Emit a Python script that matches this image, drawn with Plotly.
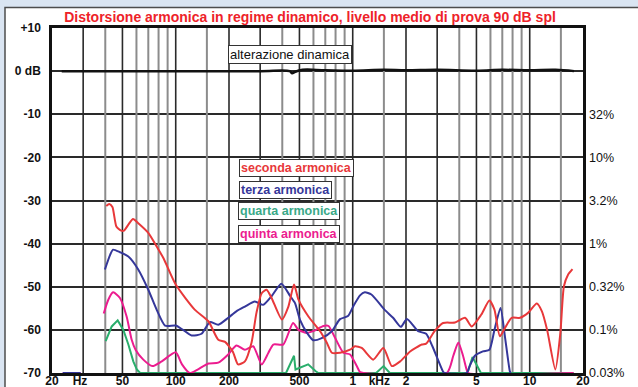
import numpy as np
import plotly.graph_objects as go

# ---- data -------------------------------------------------------------
title_text = "Distorsione armonica in regime dinamico, livello medio di prova 90 dB spl"

# dynamic alteration (dB)
alt_f = [22.7, 100, 300, 440, 455, 470, 520, 700, 1000, 1500, 2000, 3000, 5000, 7000, 10000, 14000, 17800]
alt_db = [0.0, 0.0, 0.0, 0.0, -0.5, -0.2, 0.3, 0.2, 0.1, 0.3, 0.2, 0.3, 0.1, 0.3, 0.2, 0.3, 0.0]

# 2nd harmonic
h2_f = [40.5, 42.1, 43.9, 46.2, 49.2, 51.0, 54.0, 57.4, 61.2, 70.0, 77.9, 85.3, 100, 128, 153, 174,
        190, 210, 225, 246, 268, 286, 306, 326, 348, 398, 433, 466, 494, 562, 654, 714, 762, 848,
        966, 1030, 1124, 1306, 1490, 1664, 1854, 2110, 2458, 2600, 2900, 3240, 3780, 4310, 4700,
        5320, 5920, 6320, 6780, 7240, 7900, 8820, 9820, 10960, 11720, 12540, 13960, 14900, 15600,
        16460, 17440]
h2_db = [-31.3, -30.8, -31.5, -36.0, -37.0, -37.0, -35.6, -34.3, -35.2, -37.5, -40.6, -43.4, -49.5,
         -55.3, -58.0, -62.3, -62.8, -65.0, -68.0, -67.3, -63.0, -56.0, -51.5, -50.7, -52.6, -57.6,
         -54.6, -49.5, -53.0, -56.9, -60.3, -63.0, -65.3, -65.3, -64.6, -63.8, -64.2, -66.9, -64.2,
         -68.4, -67.3, -65.0, -63.4, -63.2, -60.3, -58.4, -58.3, -57.2, -59.2, -56.5, -53.2, -55.3,
         -61.5, -59.6, -57.2, -57.2, -56.0, -53.9, -55.7, -60.0, -69.2, -60.7, -49.9, -47.2, -45.9]

# 3rd harmonic
h3_f = [23, 29, None, 39.8, 42.6, 44.3, 48.4, 54, 61.4, 70, 78, 87, 100, 110, 123, 140, 156, 174, 198,
        220, 246, 280, 312, 348, 395, 444, 472, 503, 552, 598, 668, 762, 848, 940, 1008, 1100, 1170,
        1275, 1512, 1690, 1870, 2024, 2340, 2600, 2820, 3230, 3300, 4400, 4580, 4900, 5440, 5920,
        6320, 6840, 7240, 7720, 7800]
h3_db = [-70, -70, None, -46.0, -42.6, -41.4, -42.0, -43.0, -46.0, -50.7, -55.3, -59.0, -59.0, -60.0,
         -61.3, -60.9, -58.2, -58.8, -57.2, -55.7, -54.6, -53.4, -54.2, -52.2, -49.3, -52.2, -53.8,
         -57.6, -60.7, -62.4, -61.9, -60.3, -57.5, -56.8, -54.5, -52.0, -51.3, -51.8, -55.3, -57.2,
         -59.3, -57.5, -60.3, -60.9, -63.8, -69.6, -70, -70, -68.4, -66.0, -65.0, -64.6, -60.0,
         -54.9, -61.5, -69.6, -70]

# 4th harmonic
h4_f = [40.2, 43.5, 47, 50.6, 54, 57.6, 60.3, 63, 420, 466, 475, 538, 560, 618, 640, 1356, 1494, 1620,
        4450, 4750, 5300, 17700]
h4_db = [-62.6, -59.2, -57.8, -60.0, -63.4, -67.3, -69.2, -70, -70, -66.0, -69.2, -68.4, -68.0, -69.6,
         -70, -70, -68.4, -70, -70, -66.3, -70, -70]

# 5th harmonic
h5_f = [23, 29, None, 39.2, 41.6, 44.3, 48.4, 52.8, 56.4, 59.3, 65.6, 73.8, 83.4, 100, 108.5, 120, 133,
        153, 174, 198, 220, 246, 274, 306, 334, 356, 405, 460, 494, 552, 598, 684, 730, 796, 886,
        966, 1054, 1100, 1150, 3400, 3700, 3950, 4200, 4400, 4500, 17700]
h5_db = [-70, -70, None, -56.2, -53.0, -51.3, -52.6, -56.9, -62.3, -64.6, -66.9, -68.4, -67.3, -65.2,
         -68.0, -70, -69.2, -67.8, -67.6, -65.7, -63.6, -64.6, -63.8, -68.0, -65.3, -63.4, -63.4,
         -58.4, -60.0, -60.7, -60.3, -59.1, -59.1, -61.9, -65.3, -65.7, -68.4, -69.8, -70, -70, -66.0,
         -62.9, -66.0, -69.2, -70, -70]

# frequency grid
grid_major = [30, 50, 100, 200, 300, 500, 1000, 2000, 3000, 5000, 10000]
grid_minor = [40, 60, 70, 80, 90, 150, 400, 600, 700, 800, 900, 1500, 4000, 6000, 7000, 8000, 9000, 15000]

x_tickvals = [20, 28.8, 50, 100, 200, 500, 1000, 1414, 2000, 5000, 10000, 20000]
x_ticktext = ["20", "Hz", "50", "100", "200", "500", "1", "kHz", "2", "5", "10", "20"]
y_tickvals = [10, 0, -10, -20, -30, -40, -50, -60, -70]
y_ticktext = ["+10", "0 dB", "-10", "-20", "-30", "-40", "-50", "-60", "-70"]
pct_tickvals = [-10, -20, -30, -40, -50, -60, -70]
pct_ticktext = ["32%", "10%", "3.2%", "1%", "0.32%", "0.1%", "0.03%"]

labels = ["alterazione dinamica", "seconda armonica", "terza armonica", "quarta armonica", "quinta armonica"]

# ---- styling ----------------------------------------------------------
W, H = 638, 387
L, R, T, B = 52, 583, 27.5, 373.5
FONT = "Liberation Sans, Arial, sans-serif"
RED = "#e8383a"
BLUE = "#35379a"
GREEN = "#2aae6c"
MAG = "#ec1c8f"
TEAL = "#3aa988"


def px(xp, yp):
    """pixel position -> paper coordinates"""
    return (xp - L) / (R - L), (B - yp) / (B - T)


def vlines(freqs):
    xs, ys = [], []
    for f in freqs:
        xs += [f, f, None]
        ys += [-70, 10, None]
    return xs, ys


fig = go.Figure()

gx, gy = vlines(grid_minor)
fig.add_trace(go.Scatter(x=gx, y=gy, mode="lines", line=dict(color="#8c8c8c", width=2),
                         hoverinfo="skip", showlegend=False))
gx, gy = vlines(grid_major)
fig.add_trace(go.Scatter(x=gx, y=gy, mode="lines", line=dict(color="#2a2a2a", width=1.6),
                         hoverinfo="skip", showlegend=False))

fig.add_trace(go.Scatter(x=h4_f, y=h4_db, mode="lines", line=dict(color=GREEN, width=2),
                         name=labels[3], showlegend=False))
fig.add_trace(go.Scatter(x=h5_f, y=h5_db, mode="lines", line=dict(color=MAG, width=2, shape="spline", smoothing=0.6),
                         name=labels[4], showlegend=False, connectgaps=False))
fig.add_trace(go.Scatter(x=h3_f, y=h3_db, mode="lines", line=dict(color=BLUE, width=2, shape="spline", smoothing=0.6),
                         name=labels[2], showlegend=False, connectgaps=False))
fig.add_trace(go.Scatter(x=h2_f, y=h2_db, mode="lines", line=dict(color=RED, width=2, shape="spline", smoothing=0.6),
                         name=labels[1], showlegend=False))
fig.add_trace(go.Scatter(x=alt_f, y=alt_db, mode="lines", line=dict(color="#111111", width=2.5, shape="spline"),
                         name=labels[0], showlegend=False))
# invisible trace to carry the right-hand percentage axis
fig.add_trace(go.Scatter(x=[20, 20000], y=[-70, 10], yaxis="y2", mode="lines",
                         line=dict(width=0, color="rgba(0,0,0,0)"), hoverinfo="skip", showlegend=False))

# panel behind the chart
x0, y0 = px(5, 7)
x1, y1 = px(650, 400)
shapes = [dict(type="rect", xref="paper", yref="paper", x0=x0, y0=y1, x1=x1, y1=y0,
               fillcolor="white", line=dict(color="#4d4d4d", width=1.5), layer="below")]

annotations = []
boxes = [
    (labels[0], 290, 54, "#111111", False),
    (labels[1], 296, 168, RED, True),
    (labels[2], 285.5, 189.5, BLUE, True),
    (labels[3], 289, 211, TEAL, True),
    (labels[4], 288.5, 233.7, MAG, True),
]
for text, cx, cy, col, bold in boxes:
    ax_, ay_ = px(cx, cy)
    annotations.append(dict(
        text=f"<b>{text}</b>" if bold else text, x=ax_, y=ay_, xref="paper", yref="paper",
        showarrow=False, xanchor="center", yanchor="middle",
        font=dict(family=FONT, size=12.5 if bold else 13, color=col),
        bgcolor="white", bordercolor="#333333", borderwidth=1, borderpad=1))

fig.update_layout(
    width=W, height=H,
    margin=dict(l=L, r=W - R, t=T, b=H - B, autoexpand=False),
    paper_bgcolor="#dae5f2",
    plot_bgcolor="white",
    title=dict(text=f"<b>{title_text}</b>", xref="paper", x=(310 - L) / (R - L), xanchor="center",
               yref="container", y=1 - 17 / H, yanchor="middle", automargin=False,
               font=dict(family=FONT, size=14, color="#ee2229")),
    xaxis=dict(type="log", range=[np.log10(20), np.log10(20000)], showgrid=False, zeroline=False,
               tickvals=x_tickvals, ticktext=[f"<b>{t}</b>" for t in x_ticktext], ticks="",
               ticklabelstandoff=-5, automargin=False,
               tickfont=dict(family=FONT, size=12, color="#111111"),
               showline=True, linecolor="#111111", linewidth=2.5, mirror=True),
    yaxis=dict(range=[-70, 10], tickvals=y_tickvals, ticktext=[f"<b>{t}</b>" for t in y_ticktext],
               ticks="", ticklabelstandoff=6, showgrid=True, gridcolor="#2a2a2a", gridwidth=1.6,
               zeroline=False, automargin=False, tickfont=dict(family=FONT, size=12, color="#111111"),
               showline=True, linecolor="#111111", linewidth=2.5, mirror=True),
    yaxis2=dict(range=[-70, 10], overlaying="y", side="right", tickvals=pct_tickvals,
                ticktext=pct_ticktext, ticks="", ticklabelstandoff=5, showgrid=False, zeroline=False,
                automargin=False, tickfont=dict(family=FONT, size=12.5, color="#111111")),
    shapes=shapes,
    annotations=annotations,
)

fig.write_html("out.html")
